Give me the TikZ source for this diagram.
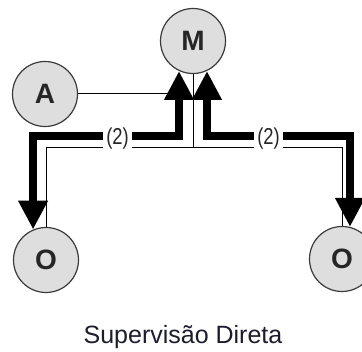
\documentclass[tikz,border=0pt]{standalone}
\usepackage{fontspec}
\setmainfont{Liberation Sans}
\usetikzlibrary{arrows.meta,calc}
\definecolor{circfill}{HTML}{DEDEDE}
\definecolor{circline}{HTML}{3A3A3A}
\definecolor{titlecol}{HTML}{1C1C2C}
\tikzset{
  unit/.style={circle, draw=circline, line width=1.2pt, fill=circfill, minimum size=65pt, inner sep=0pt,
    font=\fontsize{28}{28}\selectfont\bfseries, text=black!85},
  thickarr/.style={line width=8pt, draw=black, {Triangle[width=28pt,length=29pt]}-{Triangle[width=28pt,length=29pt]}},
  thinline/.style={line width=1pt, draw=black},
  lbl/.style={fill=white, inner xsep=3pt, inner ysep=1pt, font=\fontsize{23}{23}\selectfont, text=black!85, minimum height=22pt},
}
\begin{document}
\begin{tikzpicture}[x=1pt,y=-1pt]
\useasboundingbox (0,0) rectangle (362,352);
\clip (0,0) rectangle (362,352);
\node[unit] (M) at (193,41) {M};
\node[unit] (A) at (45,94) {A};
\node[unit] (O1) at (46,260) {O};
\node[unit] (O2) at (342,259) {O};
% thin connectors
\draw[thinline] (A.east) -- (A.east -| M.-115);
\draw[thinline] (M.south) -- ++(0,73) coordinate (T) -| (O1.north);
\draw[thinline] (T) -| (O2.north);
% thick double arrows
\draw[thickarr] (M.-115) -- ++(0,65) -| (O1.113);
\draw[thickarr] (M.-65) -- ++(0,65) -| (O2.76);
% labels
\node[lbl] (L1) at (117.5,139) {\scalebox{0.8}[1]{(2)}};
\node[lbl] (L2) at (268.5,139) {\scalebox{0.8}[1]{(2)}};
\node[font=\fontsize{25}{25}\selectfont, text=titlecol] (title) at (183,337) {Supervisão Direta};
\end{tikzpicture}
\end{document}
